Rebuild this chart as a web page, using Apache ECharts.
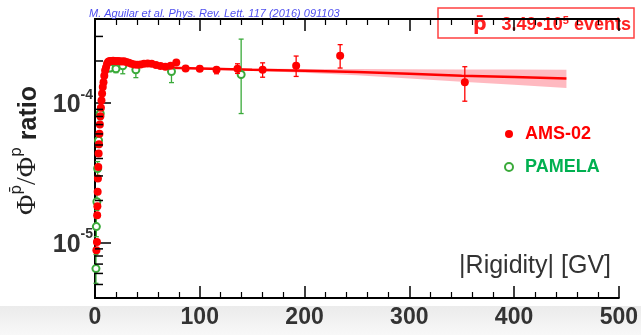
<!DOCTYPE html>
<html>
<head>
<meta charset="utf-8">
<script src="https://cdn.jsdelivr.net/npm/echarts@6/dist/echarts.min.js"></script>
<style>
  html, body { margin: 0; padding: 0; background: #fff; }
  #chart { width: 641px; height: 335px; }
</style>
</head>
<body>
<div id="chart"></div>
<script>
// AMS-02 pbar/p ratio (rigidity in GV)
const amsRigidity = [1.35, 1.85, 2.07, 2.27, 2.53, 2.82, 3.13, 3.46, 3.83, 4.22, 4.65, 5.12, 5.63, 6.18, 6.78, 7.42, 8.11, 8.86, 9.67, 10.5,
  11.5, 12.5, 13.5, 14.7, 15.9, 17.3, 18.7, 20.3, 21.9, 23.7, 25.7, 27.7, 29.9, 32.3, 34.8, 37.5, 40.4, 43.5, 46.8, 50.3,
  54.1, 58.2, 62.5, 67.2, 72.2, 77.6, 86.5, 100, 116, 136, 160, 192, 234, 353];
const amsRatio = [8.8e-6, 1.01e-5, 1.57e-5, 1.82e-5, 2.31e-5, 2.88e-5, 3.48e-5, 4.34e-5, 5.06e-5, 6.03e-5, 7.01e-5, 8.05e-5, 9.24e-5, 1.04e-4, 1.17e-4, 1.30e-4, 1.41e-4, 1.57e-4, 1.71e-4, 1.80e-4,
  1.91e-4, 1.97e-4, 1.99e-4, 2.0e-4, 2.0e-4, 2.01e-4, 2.0e-4, 1.99e-4, 2.0e-4, 1.99e-4, 1.98e-4, 1.99e-4, 1.97e-4, 1.94e-4, 1.91e-4, 1.89e-4, 1.88e-4, 1.89e-4, 1.91e-4, 1.92e-4,
  1.91e-4, 1.87e-4, 1.84e-4, 1.82e-4, 1.85e-4, 1.95e-4, 1.77e-4, 1.76e-4, 1.73e-4, 1.76e-4, 1.73e-4, 1.85e-4, 2.18e-4, 1.41e-4];
const amsErrRigidity = [86.5, 100, 116, 136, 160, 192, 234, 353];
const amsErrLow = [1.71e-4, 1.69e-4, 1.62e-4, 1.63e-4, 1.53e-4, 1.55e-4, 1.78e-4, 1.03e-4];
const amsErrHigh = [1.83e-4, 1.83e-4, 1.80e-4, 1.91e-4, 1.94e-4, 2.17e-4, 2.62e-4, 1.82e-4];

// PAMELA
const pamelaRigidity = [0.9, 1.3, 1.8, 2.5, 3.4, 5.0, 14.3, 20, 26.5, 39, 73, 139.5];
const pamelaRatio = [6.5e-6, 1.3e-5, 1.96e-5, 3.39e-5, 5.4e-5, 8.4e-5, 1.78e-4, 1.76e-4, 1.85e-4, 1.73e-4, 1.68e-4, 1.60e-4];
const pamelaErrLow = [5.1e-6, 1.1e-5, 1.7e-5, 3.0e-5, 4.8e-5, 7.6e-5, 1.68e-4, 1.65e-4, 1.62e-4, 1.52e-4, 1.40e-4, 8.4e-5];
const pamelaErrHigh = [8.2e-6, 1.5e-5, 2.25e-5, 3.8e-5, 6.0e-5, 9.3e-5, 1.88e-4, 1.85e-4, 1.95e-4, 1.82e-4, 1.79e-4, 2.87e-4];

// fit line and its band
const fitRigidity = [60, 100, 150, 200, 250, 300, 350, 400, 450];
const fitRatio = [1.80e-4, 1.77e-4, 1.73e-4, 1.70e-4, 1.67e-4, 1.62e-4, 1.57e-4, 1.535e-4, 1.50e-4];
const fitLow = [1.77e-4, 1.74e-4, 1.70e-4, 1.65e-4, 1.58e-4, 1.50e-4, 1.42e-4, 1.35e-4, 1.28e-4];
const fitHigh = [1.83e-4, 1.80e-4, 1.77e-4, 1.755e-4, 1.75e-4, 1.745e-4, 1.74e-4, 1.735e-4, 1.73e-4];

const yMinorTicks = [5e-6, 6e-6, 7e-6, 8e-6, 9e-6, 2e-5, 3e-5, 4e-5, 5e-5, 6e-5, 7e-5, 8e-5, 9e-5, 2e-4, 3e-4];

const RED = "#ff0000";
const GREEN = "#3aaa3a";
const FONT = "Liberation Sans, Arial, sans-serif";
const PBAR = "p\u0304";

const errorBar = (color, cap) => (params, api) => {
  const x = api.value(0);
  const lo = api.coord([x, api.value(1)]);
  const hi = api.coord([x, api.value(2)]);
  const style = { stroke: color, lineWidth: 1.3 };
  return {
    type: "group",
    children: [
      { type: "line", shape: { x1: lo[0], y1: lo[1], x2: hi[0], y2: hi[1] }, style },
      { type: "line", shape: { x1: lo[0] - cap, y1: lo[1], x2: lo[0] + cap, y2: lo[1] }, style },
      { type: "line", shape: { x1: hi[0] - cap, y1: hi[1], x2: hi[0] + cap, y2: hi[1] }, style }
    ]
  };
};

const chart = echarts.init(document.getElementById("chart"));

const option = {
  animation: false,
  backgroundColor: "#fff",
  title: {
    text: "M. Aguilar et al. Phys. Rev. Lett. 117 (2016) 091103",
    left: 84,
    top: 3,
    textStyle: { fontSize: 11, fontStyle: "italic", fontWeight: "normal", color: "#5050f0", fontFamily: FONT }
  },
  legend: {
    orient: "vertical",
    left: 499,
    top: 120,
    itemGap: 15,
    itemWidth: 8,
    itemHeight: 8,
    textStyle: { fontSize: 18, fontWeight: "bold", fontFamily: FONT, padding: [0, 0, 0, 7] },
    data: [
      { name: "AMS-02", icon: "circle", textStyle: { color: RED } },
      { name: "PAMELA", icon: "emptyCircle", textStyle: { color: "#00b050" } }
    ]
  },
  grid: { left: 95, right: 22, top: 19, bottom: 37 },
  xAxis: [
    {
      type: "value",
      min: 0,
      max: 500,
      interval: 100,
      position: "bottom",
      axisLine: { lineStyle: { color: "#000", width: 2 } },
      axisTick: { inside: true, length: 12, lineStyle: { color: "#000", width: 1.5 } },
      minorTick: { show: true, splitNumber: 5, length: 6, lineStyle: { color: "#000", width: 1.2 } },
      axisLabel: { margin: 8, fontSize: 23, fontWeight: "bold", color: "#333", fontFamily: FONT },
      splitLine: { show: false }
    },
    {
      type: "value",
      min: 0,
      max: 500,
      interval: 100,
      position: "top",
      axisLine: { lineStyle: { color: "#000", width: 2 } },
      axisTick: { inside: true, length: 12, lineStyle: { color: "#000", width: 1.5 } },
      minorTick: { show: true, splitNumber: 5, length: 6, lineStyle: { color: "#000", width: 1.2 } },
      axisLabel: { show: false },
      splitLine: { show: false }
    }
  ],
  yAxis: [
    {
      type: "log",
      logBase: 10,
      min: 4e-6,
      max: 4e-4,
      axisLine: { lineStyle: { color: "#000", width: 2 } },
      axisTick: { inside: true, length: 16, lineStyle: { color: "#000", width: 1.5 } },
      axisLabel: {
        margin: 2,
        showMinLabel: false,
        showMaxLabel: false,
        formatter: (v) => "{b|10}{s|" + Math.round(Math.log10(v)) + "}",
        rich: {
          b: { fontSize: 25, fontWeight: "bold", color: "#333", fontFamily: FONT, lineHeight: 30, verticalAlign: "bottom" },
          s: { fontSize: 14, fontWeight: "bold", color: "#333", fontFamily: FONT, lineHeight: 30, verticalAlign: "top" }
        }
      },
      splitLine: { show: false },
      name: "{f|Φ}{s|" + PBAR + "}{f|/Φ}{s|p}{r| ratio}",
      nameLocation: "middle",
      nameRotate: 90,
      nameGap: 50,
      nameTextStyle: {
        padding: [0, 0, 0, 16],
        rich: {
          f: { fontSize: 28, fontFamily: "Liberation Serif, serif", color: "#222", lineHeight: 32, verticalAlign: "bottom" },
          s: { fontSize: 15, fontFamily: "DejaVu Sans, sans-serif", color: "#222", lineHeight: 32, verticalAlign: "top" },
          r: { fontSize: 25, fontWeight: "bold", fontFamily: FONT, color: "#222", lineHeight: 32, verticalAlign: "bottom" }
        }
      }
    },
    {
      type: "log",
      logBase: 10,
      min: 4e-6,
      max: 4e-4,
      position: "right",
      axisLine: { show: true, lineStyle: { color: "#000", width: 2 } },
      axisTick: { show: false },
      axisLabel: { show: false },
      splitLine: { show: false }
    }
  ],
  graphic: [
    {
      type: "rect",
      left: 0,
      top: 306,
      z: -10,
      shape: { width: 641, height: 29 },
      style: {
        fill: new echarts.graphic.LinearGradient(0, 0, 0, 1, [
          { offset: 0, color: "#ebebeb" },
          { offset: 1, color: "#f8f8f8" }
        ])
      }
    },
    {
      type: "group",
      z: 100,
      children: [
        {
          type: "rect",
          shape: { x: 438, y: 8, width: 196, height: 30 },
          style: { fill: "#fff", stroke: "#ff4040", lineWidth: 1.5 }
        },
        {
          type: "text",
          x: 631,
          y: 25,
          style: {
            text: "{p|" + PBAR + "}{t|   3.49\u202210}{s|5}{t| events}",
            align: "right",
            verticalAlign: "middle",
            rich: {
              p: { fontSize: 19, fontWeight: "bold", fill: "#ff2020", fontFamily: "DejaVu Sans, sans-serif", lineHeight: 19, verticalAlign: "bottom" },
              t: { fontSize: 18, fontWeight: "bold", fill: "#ff2020", fontFamily: FONT, lineHeight: 19, verticalAlign: "bottom" },
              s: { fontSize: 11, fontWeight: "bold", fill: "#ff2020", fontFamily: FONT, lineHeight: 11, verticalAlign: "top" }
            }
          }
        }
      ]
    },
    {
      type: "text",
      right: 30,
      top: 254,
      z: 100,
      style: { text: "|Rigidity| [GV]", fontSize: 25, fill: "#333", fontFamily: FONT }
    }
  ],
  series: [
    {
      type: "custom",
      name: "band",
      silent: true,
      data: [[fitRigidity[0], fitRatio[0]]],
      renderItem: (params, api) => {
        const top = fitRigidity.map((r, i) => api.coord([r, fitHigh[i]]));
        const bottom = fitRigidity.map((r, i) => api.coord([r, fitLow[i]])).reverse();
        return { type: "polygon", shape: { points: top.concat(bottom) }, style: { fill: "rgba(255, 70, 90, 0.38)" } };
      },
      z: 1
    },
    {
      type: "line",
      name: "fit",
      data: fitRigidity.map((r, i) => [r, fitRatio[i]]),
      showSymbol: false,
      lineStyle: { color: RED, width: 2.5 },
      z: 2
    },
    {
      type: "custom",
      name: "pamelaErr",
      data: pamelaRigidity.map((r, i) => [r, pamelaErrLow[i], pamelaErrHigh[i]]),
      renderItem: errorBar(GREEN, 2.5),
      z: 3
    },
    {
      type: "scatter",
      name: "PAMELA",
      data: pamelaRigidity.map((r, i) => [r, pamelaRatio[i]]),
      symbol: "emptyCircle",
      symbolSize: 7,
      itemStyle: { color: GREEN, borderColor: GREEN, borderWidth: 1.5, opacity: 1 },
      z: 4
    },
    {
      type: "custom",
      name: "amsErr",
      data: amsErrRigidity.map((r, i) => [r, amsErrLow[i], amsErrHigh[i]]),
      renderItem: errorBar(RED, 2.5),
      z: 5
    },
    {
      type: "scatter",
      name: "AMS-02",
      data: amsRigidity.map((r, i) => [r, amsRatio[i]]),
      symbol: "circle",
      symbolSize: 8,
      itemStyle: { color: RED, opacity: 1 },
      z: 6
    },
    {
      type: "custom",
      name: "minorTicks",
      silent: true,
      clip: false,
      data: yMinorTicks.map((v) => [0, v]),
      renderItem: (params, api) => {
        const p = api.coord([0, api.value(1)]);
        return { type: "line", shape: { x1: p[0], y1: p[1], x2: p[0] + 8, y2: p[1] }, style: { stroke: "#000", lineWidth: 1.5 } };
      },
      z: 7
    }
  ]
};

chart.setOption(option);
</script>
</body>
</html>
